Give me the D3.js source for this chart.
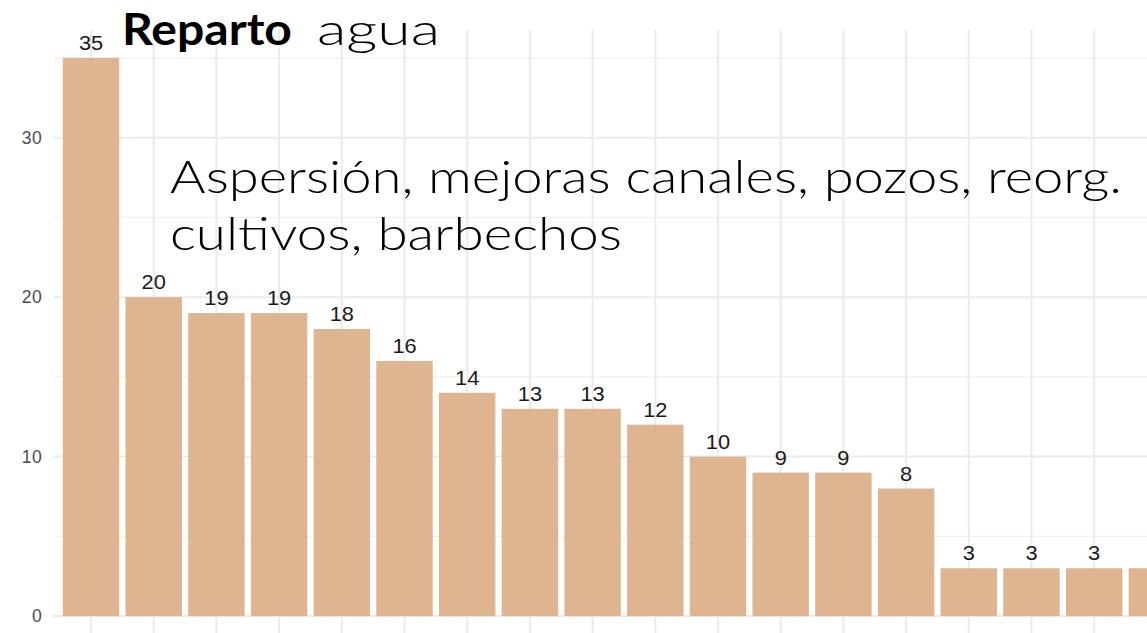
<!DOCTYPE html>
<html>
<head>
<meta charset="utf-8">
<script src="https://cdn.jsdelivr.net/npm/d3@7"></script>
<style>
  html, body { margin: 0; padding: 0; background: #ffffff; }
  svg { display: block; }
</style>
</head>
<body>
<svg id="chart" width="1147" height="633"></svg>
<script>
// ---- data ----
const categories = ["C01","C02","C03","C04","C05","C06","C07","C08","C09","C10","C11","C12","C13","C14","C15","C16","C17","C18"];
const values = [35, 20, 19, 19, 18, 16, 14, 13, 13, 12, 10, 9, 9, 8, 3, 3, 3, 3];
const yMajorTicks = [0, 10, 20, 30];
const yMinorTicks = [5, 15, 25, 35];
const titleBold = "Reparto";
const titleRegular = "agua";
const noteLines = ["Aspersión, mejoras canales, pozos, reorg.", "cultivos, barbechos"];

// ---- layout ----
const W = 1147, H = 633;
const panel = { left: 53.4, right: 1194.5, top: 30, bottom: 644 };
const svg = d3.select("#chart");

const x = d3.scaleBand()
  .domain(categories)
  .range([panel.left, panel.right])
  .paddingInner(0.1)
  .paddingOuter(0.15);

const yMax = d3.max(values);
const y = d3.scaleLinear()
  .domain([-0.05 * yMax, yMax * 1.05])
  .range([panel.bottom, panel.top]);

const grid = svg.append("g");
// minor horizontal gridlines
grid.selectAll("line.minor").data(yMinorTicks).join("line")
  .attr("x1", panel.left).attr("x2", W)
  .attr("y1", d => y(d)).attr("y2", d => y(d))
  .attr("stroke", "#f1f1f1").attr("stroke-width", 1.2);
// major horizontal gridlines
grid.selectAll("line.major").data(yMajorTicks).join("line")
  .attr("x1", panel.left).attr("x2", W)
  .attr("y1", d => y(d)).attr("y2", d => y(d))
  .attr("stroke", "#ebebeb").attr("stroke-width", 2);
// vertical gridlines
grid.selectAll("line.vx").data(categories).join("line")
  .attr("x1", d => x(d) + x.bandwidth() / 2).attr("x2", d => x(d) + x.bandwidth() / 2)
  .attr("y1", panel.top).attr("y2", panel.bottom)
  .attr("stroke", "#ebebeb").attr("stroke-width", 2);

// y axis labels via d3 axis
const yAxis = svg.append("g")
  .attr("transform", `translate(${panel.left - 4},0)`)
  .call(d3.axisLeft(y).tickValues(yMajorTicks).tickSize(0).tickPadding(7));
yAxis.select(".domain").remove();
yAxis.selectAll("text")
  .attr("font-family", "Liberation Sans, Arial, sans-serif")
  .attr("font-size", 17.5)
  .attr("letter-spacing", 0.6)
  .attr("fill", "#4d4d4d");

// bars
svg.append("g").selectAll("rect").data(values).join("rect")
  .attr("x", (d, i) => x(categories[i]))
  .attr("width", x.bandwidth())
  .attr("y", d => y(d))
  .attr("height", d => y(0) - y(d))
  .attr("fill", "#deb590");

// value labels (only those whose position lies inside the visible area, as in the reference)
const labelData = values.map((v, i) => ({ v, c: categories[i] }))
  .filter(d => x(d.c) + x.bandwidth() / 2 < W);
svg.append("g").selectAll("text").data(labelData).join("text")
  .attr("transform", d => `translate(${x(d.c) + x.bandwidth() / 2},${y(d.v) - 8}) scale(1.12,1)`)
  .attr("text-anchor", "middle")
  .attr("font-family", "Liberation Sans, Arial, sans-serif")
  .attr("font-size", 19.5)
  .attr("fill", "#1a1a1a")
  .text(d => d.v);

// title
svg.append("text")
  .attr("x", 122).attr("y", 45)
  .attr("font-family", "Lato, 'Open Sans', sans-serif")
  .attr("font-weight", "bold")
  .attr("font-size", 44)
  .attr("textLength", 170).attr("lengthAdjust", "spacingAndGlyphs")
  .attr("fill", "#000")
  .text(titleBold);
svg.append("text")
  .attr("x", 317).attr("y", 45)
  .attr("font-family", "Lato, 'Open Sans', sans-serif")
  .attr("font-weight", 300)
  .attr("font-size", 44)
  .attr("textLength", 123).attr("lengthAdjust", "spacingAndGlyphs")
  .attr("fill", "#000")
  .text(titleRegular);

// annotation
const noteLengths = [952, 452];
svg.append("g").selectAll("text").data(noteLines).join("text")
  .attr("x", 170)
  .attr("y", (d, i) => 193 + i * 57)
  .attr("font-family", "Lato, 'Open Sans', sans-serif")
  .attr("font-weight", 300)
  .attr("font-size", 46)
  .attr("textLength", (d, i) => noteLengths[i])
  .attr("lengthAdjust", "spacingAndGlyphs")
  .attr("fill", "#000")
  .text(d => d);
</script>
</body>
</html>
